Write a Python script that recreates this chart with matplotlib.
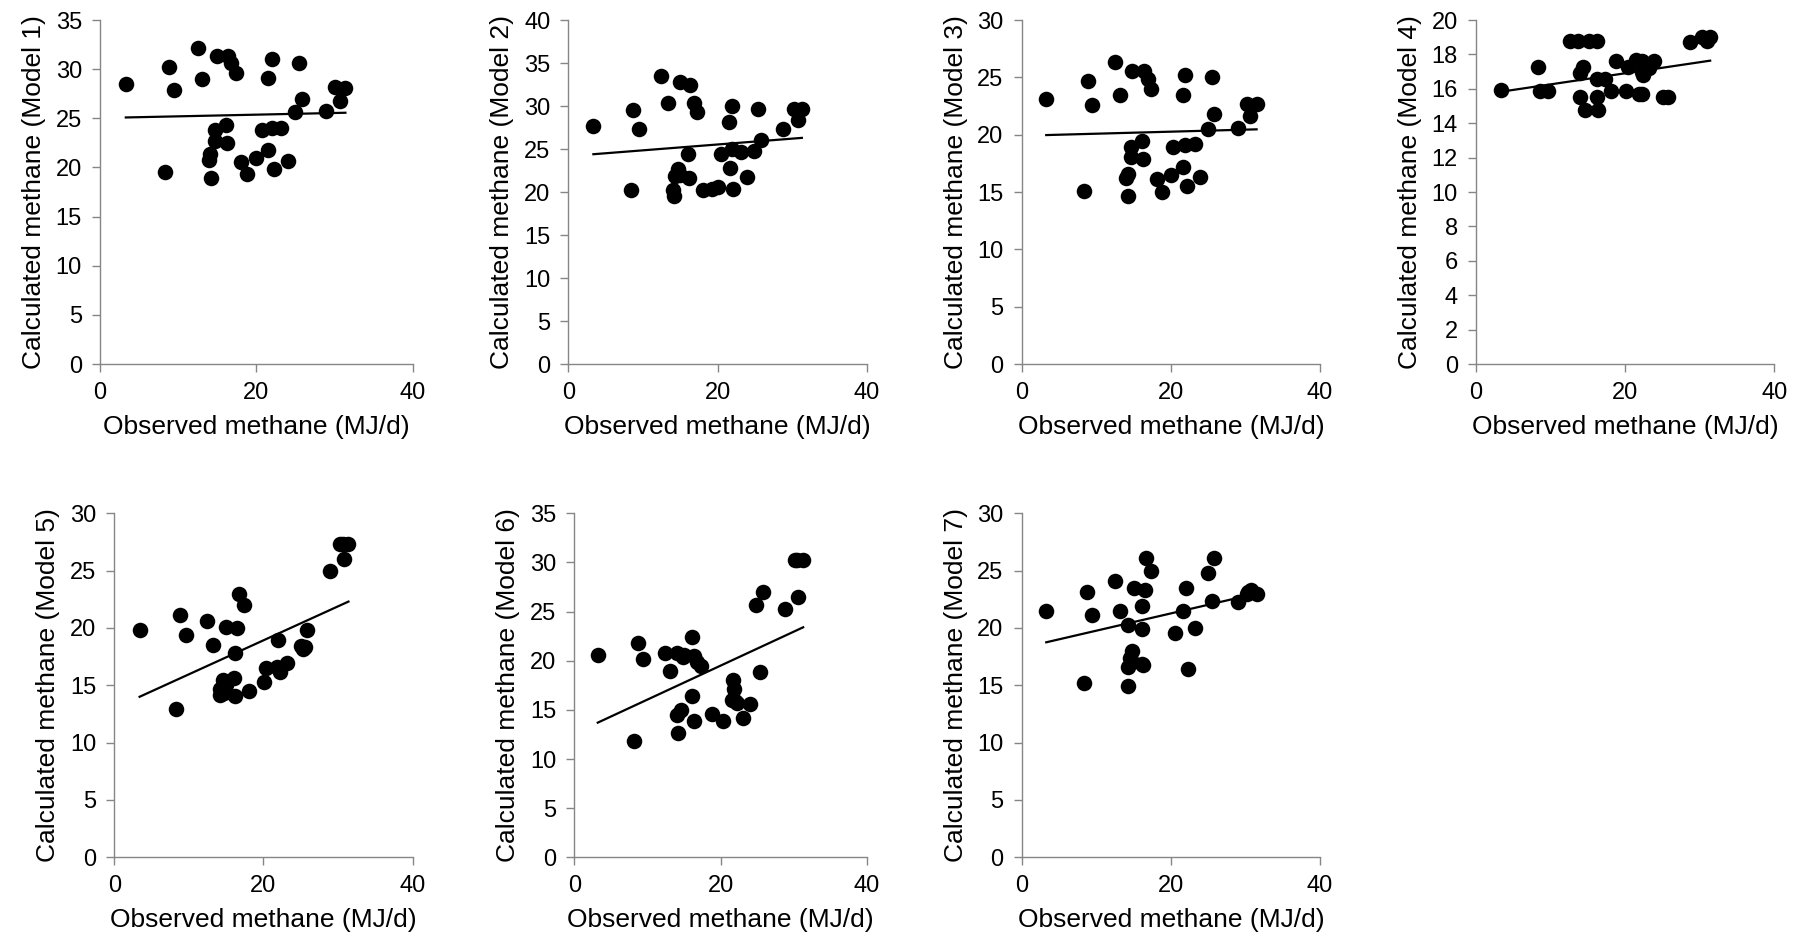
import numpy as np
import matplotlib
matplotlib.use("Agg")
import matplotlib.pyplot as plt

plt.rcParams['font.family'] = ['Liberation Sans', 'DejaVu Sans']

# observed vs calculated methane (MJ/d)
obs_1 = [3.3, 8.3, 8.8, 9.5, 12.5, 13.1, 14.0, 14.1, 14.2, 14.7, 14.7, 15.0, 16.1, 16.2, 16.4, 16.8, 17.4, 18.1,
         18.8, 20.0, 20.7, 21.5, 21.5, 22.0, 22.0, 22.3, 23.2, 24.0, 24.9, 25.5, 25.8, 28.9, 30.1, 30.7, 31.4]
calc_1 = [28.45, 19.5, 30.25, 27.9, 32.2, 29.0, 20.75, 21.4, 18.9, 23.8, 22.7, 31.3, 24.3, 22.45, 31.3, 30.65,
          29.6, 20.6, 19.3, 21.0, 23.8, 21.8, 29.1, 24.0, 31.0, 19.8, 24.0, 20.7, 25.6, 30.65, 26.95, 25.7,
          28.15, 26.8, 28.1]

obs_2 = [3.35, 8.4, 8.6, 9.5, 12.4, 13.3, 14.0, 14.1, 14.3, 14.7, 14.9, 16.1, 16.2, 16.3, 16.8, 17.3, 18.1, 19.2,
         20.1, 20.4, 21.5, 21.6, 21.9, 21.9, 22.1, 23.2, 23.9, 24.9, 25.4, 25.8, 28.8, 30.2, 30.75, 31.3, 15.0]
calc_2 = [27.7, 20.2, 29.5, 27.3, 33.5, 30.4, 20.2, 19.5, 21.9, 22.7, 32.8, 24.4, 21.6, 32.5, 30.3, 29.3, 20.2,
          20.4, 20.6, 24.4, 28.2, 22.8, 25.0, 30.0, 20.3, 24.6, 21.7, 24.8, 29.65, 26.1, 27.3, 29.7, 28.4,
          29.7, 22.0]

obs_3 = [3.3, 8.3, 8.85, 9.5, 12.5, 13.2, 14.0, 14.3, 14.2, 14.6, 14.6, 14.8, 16.1, 16.3, 16.4, 16.9, 17.3, 18.1,
         18.8, 20.0, 20.3, 21.6, 21.7, 21.9, 21.9, 22.2, 23.2, 23.9, 25.0, 25.5, 25.8, 29.05, 30.2, 30.6, 31.5]
calc_3 = [23.1, 15.1, 24.7, 22.6, 26.3, 23.5, 16.2, 16.6, 14.65, 18.9, 18.1, 25.55, 19.45, 17.85, 25.55, 24.9,
          23.95, 16.1, 15.0, 16.5, 18.95, 17.2, 23.5, 19.1, 25.2, 15.55, 19.15, 16.3, 20.5, 25.05, 21.8,
          20.55, 22.7, 21.6, 22.7]

obs_4 = [3.3, 8.3, 8.6, 9.6, 12.6, 13.7, 14.0, 14.0, 14.3, 14.6, 15.1, 16.2, 16.2, 16.2, 16.3, 17.3, 18.1, 18.8,
         20.1, 20.4, 21.5, 21.8, 22.2, 22.9, 23.9, 25.1, 25.8, 28.7, 30.3, 31.4, 22.2, 22.4, 23.2, 22.2, 31.0]
calc_4 = [15.95, 17.25, 15.9, 15.9, 18.8, 18.8, 16.9, 15.55, 17.25, 14.77, 18.8, 18.8, 16.6, 15.55, 14.77, 16.6,
          15.9, 17.6, 15.9, 17.3, 17.7, 15.7, 17.0, 17.3, 17.6, 15.55, 15.55, 18.7, 19.0, 19.0, 17.6, 16.8,
          17.2, 15.7, 18.8]

obs_5 = [3.4, 8.3, 8.8, 9.6, 12.5, 13.2, 14.2, 14.2, 14.6, 14.7, 15.0, 16.0, 16.2, 16.2, 16.4, 16.7, 17.4, 18.1,
         20.1, 20.4, 21.8, 21.9, 22.2, 23.2, 25.1, 25.6, 25.8, 28.9, 30.3, 30.8, 31.4, 15.0, 22.0, 30.6, 25.3]
calc_5 = [19.8, 12.9, 21.1, 19.4, 20.6, 18.5, 14.7, 14.15, 15.45, 14.3, 20.1, 15.6, 14.06, 17.8, 20.0, 23.0,
          22.0, 14.5, 15.3, 16.5, 16.6, 18.95, 16.2, 16.95, 18.4, 18.3, 19.8, 25.0, 27.3, 26.0, 27.3, 15.0,
          16.5, 27.3, 18.2]

obs_6 = [3.2, 8.2, 8.7, 9.4, 12.4, 13.1, 14.0, 14.9, 16.1, 16.3, 16.8, 17.3, 14.2, 14.0, 14.6, 16.05, 16.3, 18.8,
         20.4, 21.75, 21.85, 21.5, 22.2, 23.1, 24.0, 24.9, 25.8, 25.4, 28.8, 30.2, 31.3, 30.65, 15.0, 22.0, 30.5]
calc_6 = [20.6, 11.8, 21.8, 20.2, 20.75, 19.0, 20.8, 20.4, 22.45, 20.5, 19.9, 19.5, 12.6, 14.5, 15.0, 16.4, 13.9,
          14.55, 13.9, 18.0, 17.1, 16.0, 15.7, 14.2, 15.6, 25.7, 27.0, 18.9, 25.3, 30.25, 30.25, 26.5, 20.6,
          15.9, 30.2]

obs_7 = [3.3, 8.3, 8.7, 9.5, 12.5, 13.2, 14.2, 14.2, 14.3, 14.75, 14.6, 15.0, 16.5, 16.2, 16.1, 16.3, 16.7,
         17.3, 20.6, 21.7, 22.0, 22.3, 23.2, 25.0, 25.5, 25.8, 29.0, 30.2, 30.7, 31.5, 14.5, 30.4, 16.2]
calc_7 = [21.5, 15.2, 23.1, 21.1, 24.1, 21.5, 20.3, 14.9, 16.6, 18.0, 17.2, 23.5, 23.3, 21.9, 19.9, 16.8, 26.1,
          25.0, 19.6, 21.5, 23.5, 16.4, 20.0, 24.8, 22.35, 26.1, 22.3, 23.0, 23.3, 23.0, 17.4, 23.1, 16.9]

# linear trendline: calculated value at lowest and highest observed value
trend_1 = [25.09, 25.57]
trend_2 = [24.4, 26.3]
trend_3 = [19.97, 20.47]
trend_4 = [15.83, 17.64]
trend_5 = [14.0, 22.3]
trend_6 = [13.7, 23.4]
trend_7 = [18.75, 23.0]

y_max = [35, 40, 30, 20, 30, 35, 30]
y_step = [5, 5, 5, 2, 5, 5, 5]
model_names = ['Model 1', 'Model 2', 'Model 3', 'Model 4', 'Model 5', 'Model 6', 'Model 7']

panels = [(obs_1, calc_1, trend_1), (obs_2, calc_2, trend_2), (obs_3, calc_3, trend_3),
          (obs_4, calc_4, trend_4), (obs_5, calc_5, trend_5), (obs_6, calc_6, trend_6),
          (obs_7, calc_7, trend_7)]

# axes rectangles in figure fraction (left, bottom, width, height)
rects = [
    [0.0554, 0.6156, 0.1732, 0.3632],
    [0.3149, 0.6156, 0.1653, 0.3632],
    [0.5660, 0.6156, 0.1653, 0.3632],
    [0.8177, 0.6156, 0.1653, 0.3632],
    [0.0633, 0.0947, 0.1653, 0.3633],
    [0.3182, 0.0947, 0.1620, 0.3633],
    [0.5660, 0.0947, 0.1653, 0.3633],
]

grey = '#868686'
fig = plt.figure(figsize=(18.05, 9.47), dpi=100)

for i, (obs, calc, trend) in enumerate(panels):
    ax = fig.add_axes(rects[i])
    ax.scatter(obs, calc, s=125, color='black', zorder=3, linewidths=0)
    ax.plot([min(obs), max(obs)], trend, color='black', lw=1.6, zorder=2)

    ax.set_xlim(0, 40)
    ax.set_ylim(0, y_max[i])
    ax.set_xticks([0, 20, 40])
    ax.set_yticks(np.arange(0, y_max[i] + 0.1, y_step[i]))

    for side in ['top', 'right']:
        ax.spines[side].set_visible(False)
    for side in ['left', 'bottom']:
        ax.spines[side].set_color(grey)
        ax.spines[side].set_linewidth(1.0)
    ax.tick_params(direction='out', length=6, width=1.0, color=grey,
                   labelsize=17, pad=7, labelcolor='black')

    ax.set_xlabel('Observed methane (MJ/d)', fontsize=19, labelpad=8)
    ax.set_ylabel('Calculated methane (' + model_names[i] + ')', fontsize=19, labelpad=7)

fig.savefig('out.png', dpi=100)
